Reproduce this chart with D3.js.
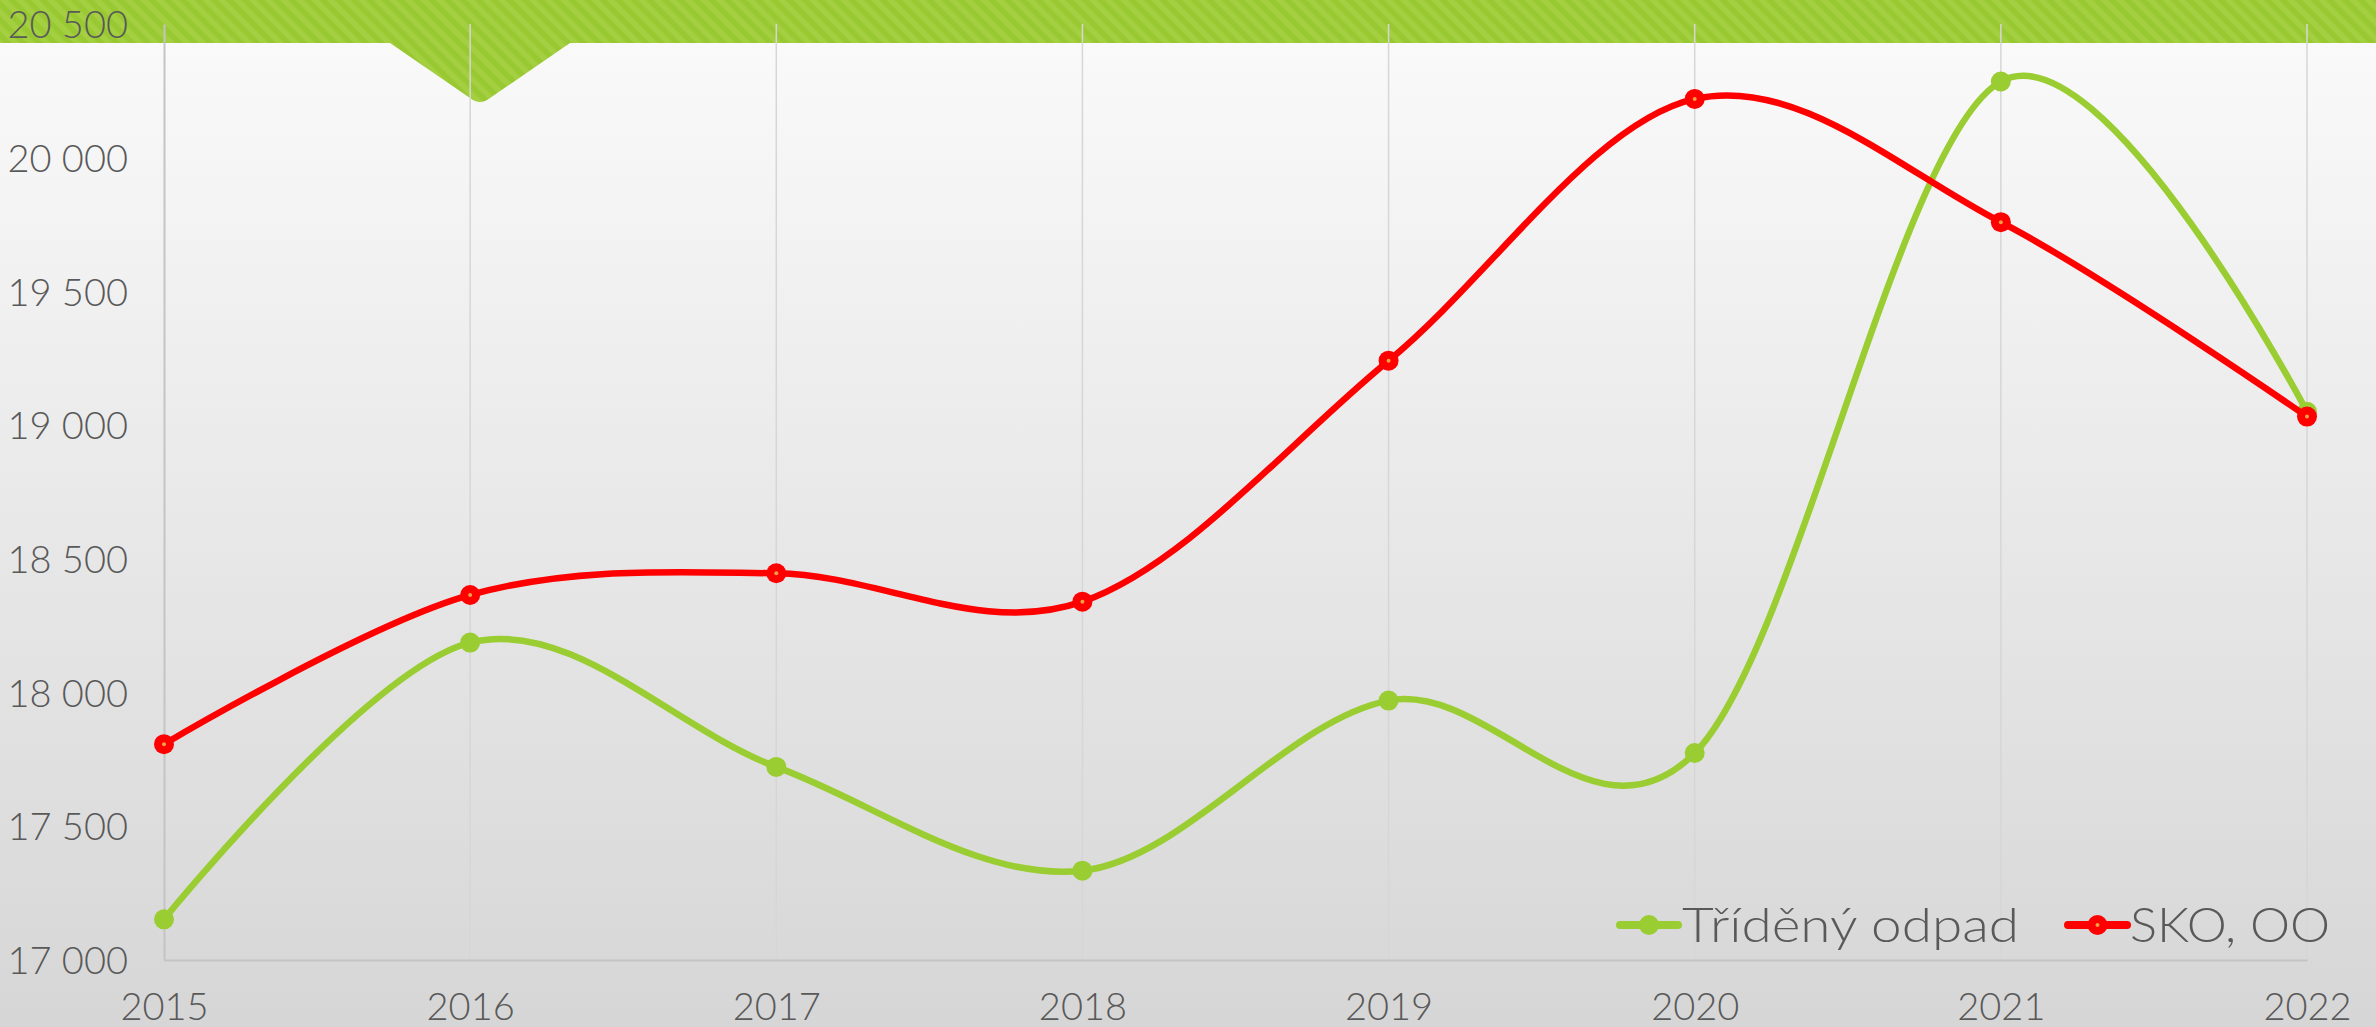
<!DOCTYPE html>
<html><head><meta charset="utf-8">
<script src="https://cdn.jsdelivr.net/npm/d3@7"></script>
<style>html,body{margin:0;padding:0;overflow:hidden;background:#fff}</style>
</head><body>
<script>
const years = ["2015","2016","2017","2018","2019","2020","2021","2022"];
const seriesNames = ["Tříděný odpad","SKO, OO"];
const tridenyOdpad = [17152,18187,17722,17334,17970,17774,20285,19050];
const skoOO = [17807,18365,18446,18340,19241,20220,19759,19032];
const yTicks = [17000,17500,18000,18500,19000,19500,20000,20500];
const seriesColors = ["#9ACD32","#FF0000"];

const W = 2376, H = 1027;
const FONT = "Lato, 'Open Sans', sans-serif";
const svg = d3.select("body").append("svg").attr("width", W).attr("height", H)
  .style("font-family", FONT).style("font-weight", 300);
const defs = svg.append("defs");
const bg = defs.append("linearGradient").attr("id","bg").attr("x1",0).attr("y1",0).attr("x2",0).attr("y2",1);
bg.append("stop").attr("offset","0%").attr("stop-color","#fbfbfb");
bg.append("stop").attr("offset","100%").attr("stop-color","#d6d6d6");
const pat = defs.append("pattern").attr("id","stripes").attr("patternUnits","userSpaceOnUse")
  .attr("width",11).attr("height",11).attr("patternTransform","rotate(-45)");
pat.append("rect").attr("width",11).attr("height",11).attr("fill","#99C932");
pat.append("rect").attr("width",5.5).attr("height",11).attr("fill","#A3CF40");

svg.append("rect").attr("width",W).attr("height",H).attr("fill","url(#bg)");

// banner with notch
svg.append("path").attr("fill","url(#stripes)")
  .attr("d","M0,0H"+W+"V43H570L490,98Q480,106 470,98L390,43H0Z");

const x = d3.scalePoint().domain(years).range([164, 2307]);
const y = d3.scaleLinear().domain([17000, 20500]).range([960, 24]);
const fmt = d3.formatLocale({decimal:",", thousands:"\u00a0", grouping:[3], currency:["","Kč"]}).format(",");

// vertical gridlines
svg.append("g").selectAll("line").data(years.slice(1)).join("line")
  .attr("x1", d=>x(d)).attr("x2", d=>x(d)).attr("y1", y(20500)).attr("y2", y(17000))
  .attr("stroke","#d6d6d6").attr("stroke-width",1.5);

// y axis
const yAxis = svg.append("g").attr("transform","translate(164,0)")
  .call(d3.axisLeft(y).tickValues(yTicks).tickFormat(fmt).tickSize(0).tickPadding(36))
  .attr("font-family", null).attr("font-size", null);
yAxis.select(".domain").attr("stroke","#c4c4c4").attr("stroke-width",2);
yAxis.selectAll("text").attr("fill","#595959").style("font-family",FONT).style("font-size","38px").style("font-weight",300).attr("dy","0.36em");

// x axis
const xAxis = svg.append("g").attr("transform","translate(0,960)")
  .call(d3.axisBottom(x).tickSize(0).tickPadding(33))
  .attr("font-family", null).attr("font-size", null);
xAxis.select(".domain").attr("stroke","#c4c4c4").attr("stroke-width",2);
xAxis.selectAll("text").attr("fill","#595959").style("font-family",FONT).style("font-size","38px").style("font-weight",300).attr("dy","0.71em");

const line = d3.line().x((d,i)=>x(years[i])).y(d=>y(d)).curve(d3.curveCardinal.tension(0));

const allSeries = [tridenyOdpad, skoOO];
allSeries.forEach((vals, si) => {
  svg.append("path").datum(vals).attr("d", line).attr("fill","none")
    .attr("stroke", seriesColors[si]).attr("stroke-width",6.5).attr("stroke-linejoin","round");
  const g = svg.append("g");
  g.selectAll("circle.m").data(vals).join("circle").attr("class","m")
    .attr("cx",(d,i)=>x(years[i])).attr("cy",d=>y(d)).attr("r",10).attr("fill",seriesColors[si]);
  if (si === 1) {
    g.selectAll("circle.c").data(vals).join("circle").attr("class","c")
      .attr("cx",(d,i)=>x(years[i])).attr("cy",d=>y(d)).attr("r",2).attr("fill","#F0A040");
  }
});

// legend
const legend = [
  {x0:1620, x1:1678, tx:1682, tw:337},
  {x0:2068, x1:2127, tx:2130, tw:200}
];
legend.forEach((l, i) => {
  const g = svg.append("g");
  g.append("line").attr("x1",l.x0).attr("x2",l.x1).attr("y1",925).attr("y2",925)
    .attr("stroke",seriesColors[i]).attr("stroke-width",8).attr("stroke-linecap","round");
  const cx = (l.x0+l.x1)/2;
  g.append("circle").attr("cx",cx).attr("cy",925).attr("r",10).attr("fill",seriesColors[i]);
  if (i===1) g.append("circle").attr("cx",cx).attr("cy",925).attr("r",2).attr("fill","#F0A040");
  g.append("text").attr("x",l.tx).attr("y",942).text(seriesNames[i])
    .attr("fill","#595959").style("font-size","48px").style("font-weight",300)
    .attr("textLength",l.tw).attr("lengthAdjust","spacingAndGlyphs");
});
</script>
</body></html>
